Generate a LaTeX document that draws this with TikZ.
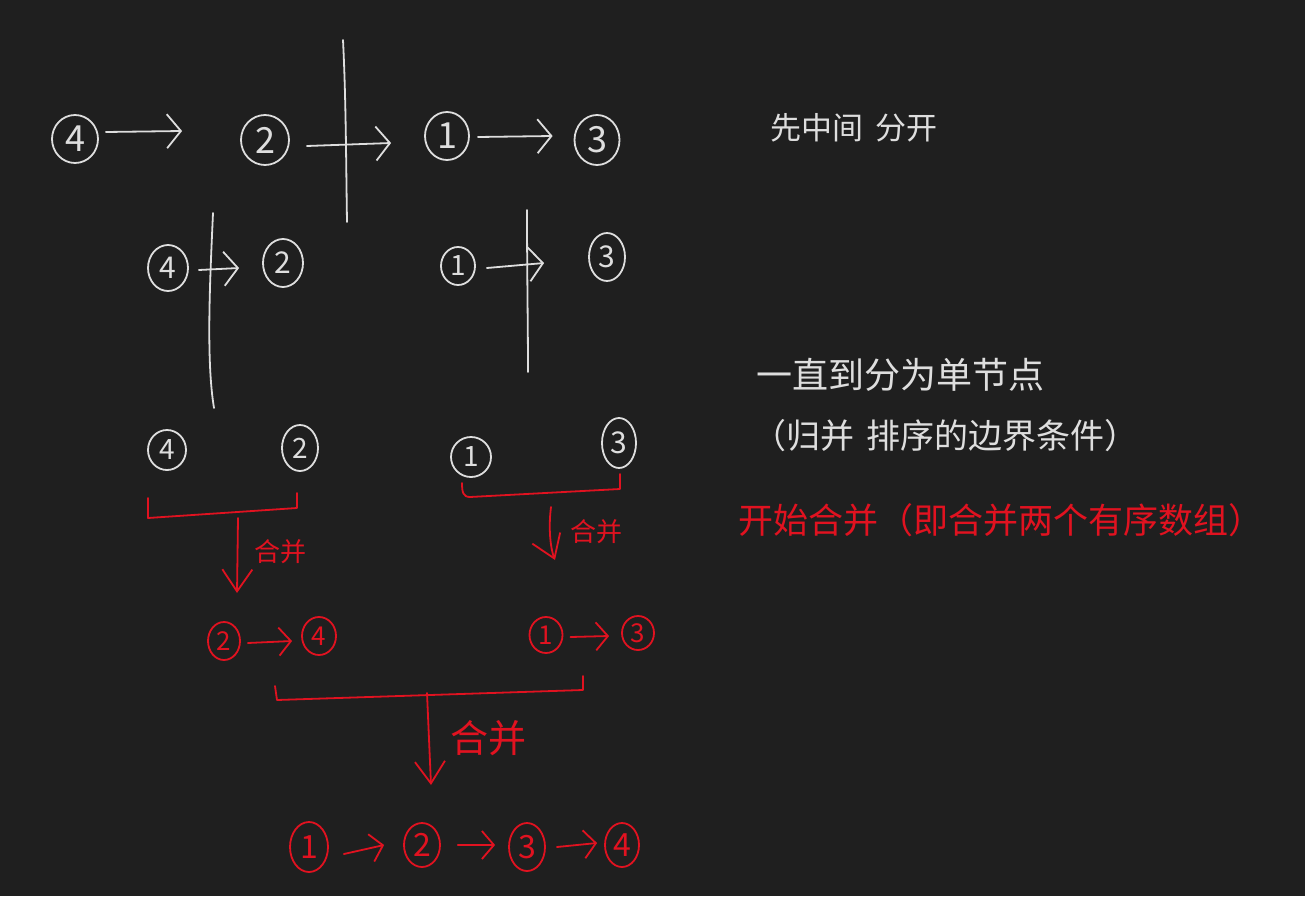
\documentclass[tikz,border=0pt]{standalone}
\usepackage{fontspec}
\setmainfont{Noto Sans CJK SC}
\usetikzlibrary{arrows.meta,shapes.geometric,calc}
\definecolor{bg}{RGB}{31,31,31}
\definecolor{chalk}{RGB}{222,222,222}
\definecolor{ink}{RGB}{225,18,32}
\begin{document}
\begin{tikzpicture}[x=1pt,y=-1pt,
  line cap=round, line join=round,
  stroke/.style={line width=1.8pt},
  wnum/.style={draw=chalk, text=chalk, stroke, ellipse, inner sep=0pt},
  rnum/.style={draw=ink, text=ink, stroke, ellipse, inner sep=0pt},
  sz/.style n args={3}{minimum width=#1pt, minimum height=#2pt, font=\fontsize{#3}{#3}\selectfont},
  warr/.style={draw=chalk, stroke, -{Straight Barb[length=14pt,width=34pt,line width=1.8pt]}},
  rarr/.style={draw=ink, stroke, -{Straight Barb[length=12pt,width=28pt,line width=1.8pt]}},
  rdown/.style={draw=ink, stroke, -{Straight Barb[length=22pt,width=30pt,line width=1.8pt]}},
  wline/.style={draw=chalk, stroke},
  rline/.style={draw=ink, stroke},
  wtext/.style={text=chalk, anchor=west, inner sep=0pt},
  rtext/.style={text=ink, anchor=west, inner sep=0pt}
]
\fill[bg] (0,0) rectangle (1305,896);
\useasboundingbox (0,0) rectangle (1305,896);

% Row 1
\node[wnum, sz={46}{48}{36}] (a4) at (75,139) {4};
\node[wnum, sz={48}{50}{36}] (a2) at (265,140) {2};
\node[wnum, sz={44}{48}{36}] (a1) at (447,136) {1};
\node[wnum, sz={45}{50}{36}] (a3) at (597,140) {3};
\draw[warr] ($(a4.east)+(7,-7)$) -- ($(a2.west)+(-58,-9)$);
\draw[warr] ($(a2.east)+(17,6)$) -- ($(a1.west)+(-33,7)$);
\draw[warr] ($(a1.east)+(8,1)$) -- ($(a3.west)+(-21,-4)$);
\draw[wline] (343,40) .. controls (346,100) and (346,160) .. (347,222);

% Row 2
\node[wnum, sz={40}{46}{30}] (b4) at (168,268) {4};
\node[wnum, sz={40}{48}{30}] (b2) at (283,263) {2};
\node[wnum, sz={34}{38}{28}] (b1) at (458,266) {1};
\node[wnum, sz={36}{48}{30}] (b3) at (607,257) {3};
\draw[warr] ($(b4.east)+(10,2)$) -- ($(b2.west)+(-23,5)$);
\draw[warr] ($(b1.east)+(11,2)$) -- ($(b3.west)+(-44,6)$);
\draw[wline] (213,213) .. controls (210,280) and (206,360) .. (214,408);
\draw[wline] (527,210) .. controls (527,270) and (528,330) .. (528,372);

% Row 3
\node[wnum, sz={38}{40}{28}] (c4) at (167,450) {4};
\node[wnum, sz={36}{46}{28}] (c2) at (300,448) {2};
\node[wnum, sz={40}{40}{28}] (c1) at (471,457) {1};
\node[wnum, sz={34}{50}{30}] (c3) at (619,443) {3};

% Red brackets level 1
\draw[rline] (148,498) -- (148,518) -- (297,508) -- (297,493);
\draw[rline] (462,483) .. controls (462,492) and (463,497) .. (470,497) -- (620,489) -- (620,474);
\coordinate (m1) at (238,518);
\coordinate (m1e) at (237,593);
\draw[rdown] (m1) -- (m1e);
\node[rtext, font=\fontsize{26}{26}\selectfont] (g1) at (254,552) {合并};
\coordinate (m2) at (551,507);
\coordinate (m2e) at (555,560);
\draw[rdown] (m2) .. controls (548,530) and (551,550) .. (m2e);
\node[rtext, font=\fontsize{26}{26}\selectfont] (g2) at (570,532) {合并};

% Row 4
\node[rnum, sz={32}{38}{26}] (d2) at (224,641) {2};
\node[rnum, sz={34}{38}{26}] (d4) at (319,636) {4};
\node[rnum, sz={33}{36}{26}] (d1) at (546,635) {1};
\node[rnum, sz={32}{34}{26}] (d3) at (638,633) {3};
\draw[rarr] ($(d2.east)+(7,2)$) -- ($(d4.west)+(-9,5)$);
\draw[rarr] ($(d1.east)+(7,2)$) -- ($(d3.west)+(-12,3)$);

% Red bracket level 2
\draw[rline] (275,686) -- (277,700) -- (583,690) -- (583,676);
\coordinate (m3) at (427,693);
\coordinate (m3e) at (431,785);
\draw[rdown] (m3) -- (m3e);
\node[rtext, font=\fontsize{38}{38}\selectfont] (g3) at (450,738) {合并};

% Row 5
\node[rnum, sz={38}{50}{32}] (e1) at (309,847) {1};
\node[rnum, sz={36}{44}{32}] (e2) at (422,845) {2};
\node[rnum, sz={36}{48}{32}] (e3) at (527,847) {3};
\node[rnum, sz={34}{44}{32}] (e4) at (622,845) {4};
\draw[rarr] ($(e1.east)+(15,7)$) -- ($(e2.west)+(-19,0)$);
\draw[rarr] ($(e2.east)+(17,0)$) -- ($(e3.west)+(-13,-2)$);
\draw[rarr] ($(e3.east)+(11,0)$) -- ($(e4.west)+(-7,-2)$);

% Notes
\node[wtext, font=\fontsize{31}{31}\selectfont] (n1) at (770,128) {先中间\hspace{12pt}分开};
\node[wtext, font=\fontsize{36}{36}\selectfont] (n2) at (756,375) {一直到分为单节点};
\node[wtext, font=\fontsize{34}{34}\selectfont] (n3) at (752,436) {（归并\hspace{12pt}排序的边界条件）};
\node[rtext, font=\fontsize{35}{35}\selectfont] (n4) at (738,520) {开始合并（即合并两个有序数组）};
\end{tikzpicture}
\end{document}
